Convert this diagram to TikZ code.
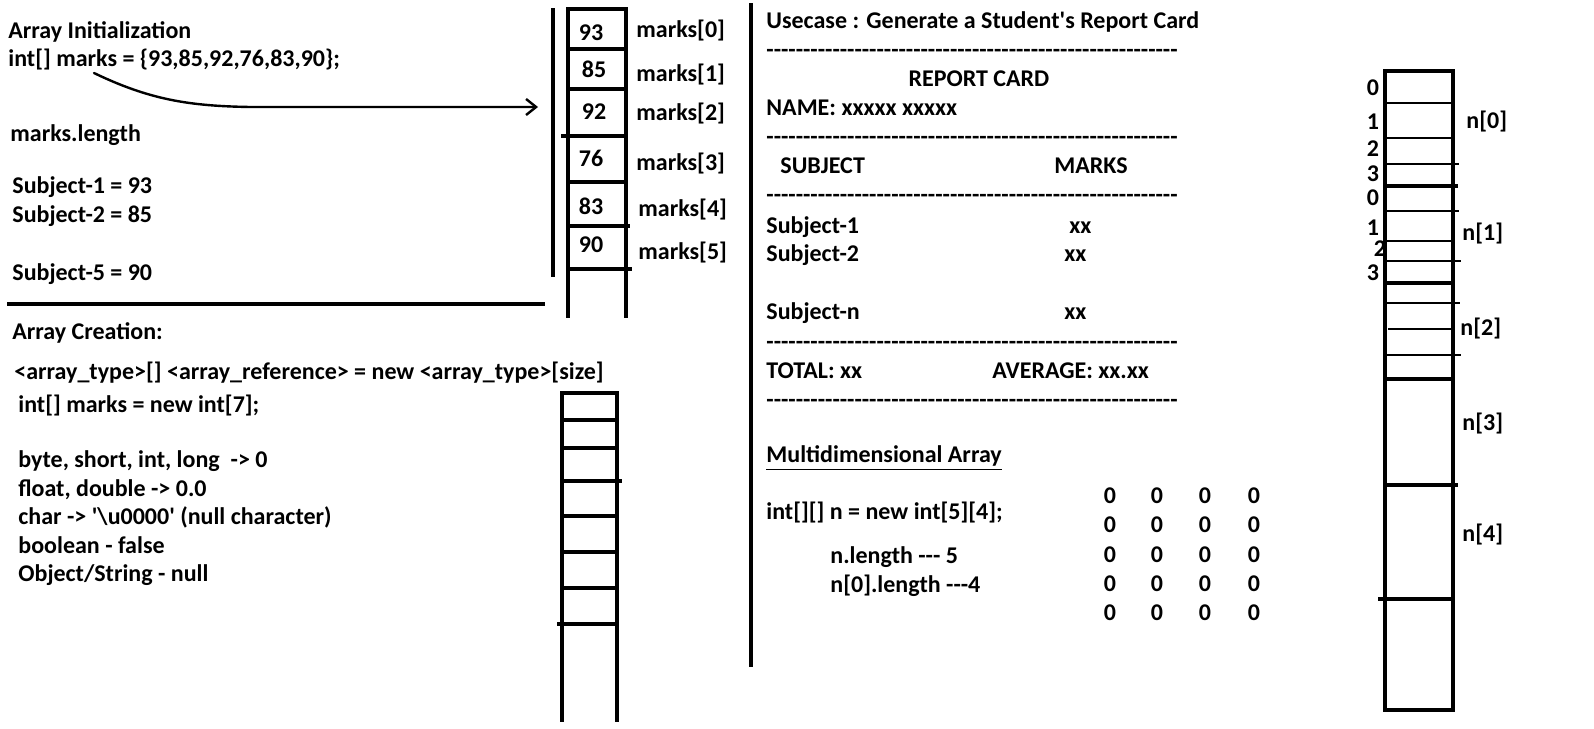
\documentclass[tikz,border=0pt]{standalone}
\usepackage{fontspec}
\newfontfamily\cf{Carlito}
\usetikzlibrary{arrows.meta}
\newcommand\dashrow[1]{\foreach \i in {1,...,#1}{-}}
\begin{document}
\begin{tikzpicture}[x=0.5pt,y=-0.5pt,
  txt/.style={font=\cf\bfseries\fontsize{12}{14}\selectfont, inner sep=0pt, text height=7.75pt, text depth=0pt, anchor=west},
  ctr/.style={txt, anchor=center},
  heavy/.style={line width=1.6pt},
  thin/.style={line width=0.6pt},
  line cap=rect]
\useasboundingbox (0,0) rectangle (1594,728);
% ---------- left top ----------
\node[txt] (t1) at (8,31) {Array Initialization};
\node[txt] (t2) at (8,59) {int[] marks = \{93,85,92,76,83,90\};};
\node[txt] (t3) at (10,134) {marks.length};
\node[txt] (t4) at (12,186) {Subject-1 = 93};
\node[txt] (t5) at (12,215) {Subject-2 = 85};
\node[txt] (t6) at (12,273) {Subject-5 = 90};
\coordinate (arrS) at (94,73);
\coordinate (arrE) at (538,107);
\draw[line width=1.2pt, line cap=round, -{Straight Barb[length=5pt,width=8pt,line width=1.2pt]}]
  (arrS) .. controls (150,100) and (190,106) .. (250,107) -- (arrE);
\draw[heavy] (553,10) -- (553,275);
\draw[heavy] (9,304) -- (543,304);
% top array
\draw[heavy] (568,9) -- (568,316) (626,9) -- (626,316);
\foreach \yy/\xa/\xb in {9/568/626,49/568/626,89/568/626,136/563/626,182/568/626,226/568/628,269/568/630}
  \draw[heavy] (\xa,\yy) -- (\xb,\yy);
\node[ctr] (v0) at (591,33) {93};
\node[ctr] (v1) at (594,70) {85};
\node[ctr] (v2) at (594,112) {92};
\node[ctr] (v3) at (591,159) {76};
\node[ctr] (v4) at (591,207) {83};
\node[ctr] (v5) at (591,245) {90};
\node[txt] (m0) at (636,30) {marks[0]};
\node[txt] (m1) at (636,74) {marks[1]};
\node[txt] (m2) at (636,113) {marks[2]};
\node[txt] (m3) at (636,163) {marks[3]};
\node[txt] (m4) at (638,209) {marks[4]};
\node[txt] (m5) at (638,252) {marks[5]};
% ---------- left bottom ----------
\node[txt] (c1) at (12,332) {Array Creation:};
\node[txt] (c2) at (14,372) {<array\_type>[] <array\_reference> = new <array\_type>[size]};
\node[txt] (c3) at (18,405) {int[] marks = new int[7];};
\node[txt] (c4) at (18,460) {byte, short, int, long\ \ -> 0};
\node[txt] (c5) at (18,489) {float, double -> 0.0};
\node[txt] (c6) at (18,517) {char -> '\textbackslash u0000' (null character)};
\node[txt] (c7) at (18,546) {boolean - false};
\node[txt] (c8) at (18,574) {Object/String - null};
\draw[heavy] (562,720) -- (562,393) -- (617,393) -- (617,720);
\foreach \yy/\xa/\xb in {420/562/617,448/562/617,481/562/620,516/562/617,552/562/617,588/562/617,624/559/617}
  \draw[heavy] (\xa,\yy) -- (\xb,\yy);
% ---------- middle ----------
\draw[heavy] (751,5) -- (751,665);
\node[txt] (r1) at (766,21) {Usecase : Generate a Student's Report Card};
\node[txt] (d1) at (766,50) {\dashrow{56}};
\node[ctr] (r2) at (979,79) {REPORT CARD};
\node[txt] (r3) at (766,108) {NAME: xxxxx xxxxx};
\node[txt] (d2) at (766,137) {\dashrow{56}};
\node[txt] (r4) at (780,166) {SUBJECT};
\node[txt] (r5) at (1054,166) {MARKS};
\node[txt] (d3) at (766,195) {\dashrow{56}};
\node[txt] (r6) at (766,226) {Subject-1};
\node[txt] (r7) at (1069,226) {xx};
\node[txt] (r8) at (766,254) {Subject-2};
\node[txt] (r9) at (1064,254) {xx};
\node[txt] (r10) at (766,312) {Subject-n};
\node[txt] (r11) at (1064,312) {xx};
\node[txt] (d4) at (766,342) {\dashrow{56}};
\node[txt] (r12) at (766,371) {TOTAL: xx};
\node[txt] (r13) at (992,371) {AVERAGE: xx.xx};
\node[txt] (d5) at (766,400) {\dashrow{56}};
\node[txt] (md1) at (766,455) {\underline{Multidimensional Array}};
\node[txt] (md2) at (766,512) {int[][] n = new int[5][4];};
\node[txt] (md3) at (830,556) {n.length -{}-{}- 5};
\node[txt] (md4) at (830,585) {n[0].length -{}-{}-4};
\foreach \r/\yy in {0/496,1/525,2/555,3/584,4/613}
  \foreach \c/\xx in {0/1110,1/1157,2/1205,3/1254}
    \node[ctr] (z-\r-\c) at (\xx,\yy) {0};
% ---------- right array ----------
\draw[heavy] (1385,71) rectangle (1453,710);
\foreach \yy/\xa/\xb in {103/1385/1453,138/1385/1453,164/1385/1458,211/1385/1458,241/1385/1453,261/1385/1460,303/1385/1459,329/1389/1453,355/1385/1460}
  \draw[thin] (\xa,\yy) -- (\xb,\yy);
\foreach \yy/\xa/\xb in {186/1385/1456,283/1385/1453,379/1385/1453,485/1385/1456,599/1380/1453}
  \draw[heavy] (\xa,\yy) -- (\xb,\yy);
\node[ctr] (i00) at (1373,88) {0};
\node[ctr] (i01) at (1373,122) {1};
\node[ctr] (i02) at (1373,149) {2};
\node[ctr] (i03) at (1373,174) {3};
\node[ctr] (i10) at (1373,198) {0};
\node[ctr] (i11) at (1373,228) {1};
\node[ctr] (i12) at (1380,249) {2};
\node[ctr] (i13) at (1373,273) {3};
\node[txt] (n0) at (1466,121) {n[0]};
\node[txt] (n1) at (1462,233) {n[1]};
\node[txt] (n2) at (1460,328) {n[2]};
\node[txt] (n3) at (1462,423) {n[3]};
\node[txt] (n4) at (1462,534) {n[4]};
\end{tikzpicture}
\end{document}
